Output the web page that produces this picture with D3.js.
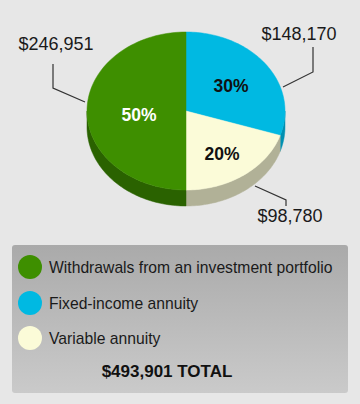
<!DOCTYPE html>
<html><head><meta charset="utf-8">
<script src="https://cdn.jsdelivr.net/npm/d3@7"></script>
<style>
html,body{margin:0;padding:0;background:#e7e7e7;}
svg{display:block;font-family:Arial,"Liberation Sans",sans-serif;}
</style></head><body>
<svg id="c" width="360" height="404"></svg>
<script>
const categories = ["Withdrawals from an investment portfolio","Fixed-income annuity","Variable annuity"];
const values = [246951, 148170, 98780];
const percentLabels = ["50%","30%","20%"];
const valueLabels = ["$246,951","$148,170","$98,780"];
const totalLabel = "$493,901 TOTAL";

const topColors = ["#3e8f00","#00b9e2","#fbfbd8"];
const sideColors = ["#2a6200","#0090b2","#b1b197"];
const pctColors = ["#ffffff","#111111","#111111"];

const svg = d3.select("#c");
const cx = 186, cy = 111, rx = 99, ry = 79, depth = 16;

// pie order: blue (0..108), cream (108..180), green (180..360)
const order = [1,2,0];
const pie = d3.pie().sort(null).value(i => values[i]);
const arcs = pie(order);

function pt(a, r, dy){ return [cx + r*Math.sin(a), cy - (ry/rx)*r*Math.cos(a) + (dy||0)]; }

const g = svg.append("g");
// side walls (front half)
arcs.forEach(d => {
  const i = d.data;
  const a0 = Math.max(d.startAngle, Math.PI/2), a1 = Math.min(d.endAngle, 3*Math.PI/2);
  if (a1 <= a0) return;
  const n = 60, pts = [];
  for (let k=0;k<=n;k++){ pts.push(pt(a0+(a1-a0)*k/n, rx, 0)); }
  for (let k=n;k>=0;k--){ pts.push(pt(a0+(a1-a0)*k/n, rx, depth)); }
  g.append("path").attr("d", d3.line()(pts)+"Z").attr("fill", sideColors[i]).attr("stroke", sideColors[i]).attr("stroke-width",0.5);
});

// top faces
arcs.forEach(d => {
  const i = d.data;
  const n = 80, pts = [[cx,cy]];
  for (let k=0;k<=n;k++){ pts.push(pt(d.startAngle+(d.endAngle-d.startAngle)*k/n, rx, 0)); }
  g.append("path").attr("d", d3.line()(pts)+"Z").attr("fill", topColors[i]).attr("stroke", topColors[i]).attr("stroke-width",0.5);
});

// percent labels
const pctPos = {0:[139,116],1:[231,87],2:[222,155]};
arcs.forEach(d => {
  const i = d.data;
  const p = pctPos[i];
  g.append("text").attr("x", p[0]).attr("y", p[1]).attr("text-anchor","middle").attr("dominant-baseline","middle")
    .attr("font-size",17.5).attr("font-weight","bold").attr("fill",pctColors[i]).text(percentLabels[i]);
});

// leader lines and value labels
const leaders = {
  0: {pts:[[85,102],[53,88],[53,64]], text:[56,50]},
  1: {pts:[[283,87],[313,72],[313,47]], text:[299,40]},
  2: {pts:[[255,186],[286,200],[286,206]], text:[290,222]}
};
[0,1,2].forEach(i => {
  const L = leaders[i];
  svg.append("path").attr("d", d3.line()(L.pts)).attr("fill","none").attr("stroke","#333").attr("stroke-width",1.2);
  svg.append("text").attr("x",L.text[0]).attr("y",L.text[1]).attr("text-anchor","middle")
    .attr("font-size",18).attr("fill","#1a1a1a").text(valueLabels[i]);
});

// legend
const defs = svg.append("defs");
const lg = defs.append("linearGradient").attr("id","lg").attr("x1",0).attr("y1",0).attr("x2",0).attr("y2",1);
lg.append("stop").attr("offset","0%").attr("stop-color","#aaaaaa");
lg.append("stop").attr("offset","100%").attr("stop-color","#cacaca");
svg.append("rect").attr("x",12).attr("y",245).attr("width",336).attr("height",148).attr("rx",3).attr("fill","url(#lg)");

const rowY = [267,303,338];
categories.forEach((c,i) => {
  svg.append("circle").attr("cx",30).attr("cy",rowY[i]).attr("r",12).attr("fill",topColors[i]);
  svg.append("text").attr("x",49).attr("y",rowY[i]).attr("dominant-baseline","central")
    .attr("font-size",15.7).attr("fill","#1a1a1a").text(c);
});
svg.append("text").attr("x",167).attr("y",377).attr("text-anchor","middle")
  .attr("font-size",17).attr("font-weight","bold").attr("fill","#111").text(totalLabel);
</script>
</body></html>
